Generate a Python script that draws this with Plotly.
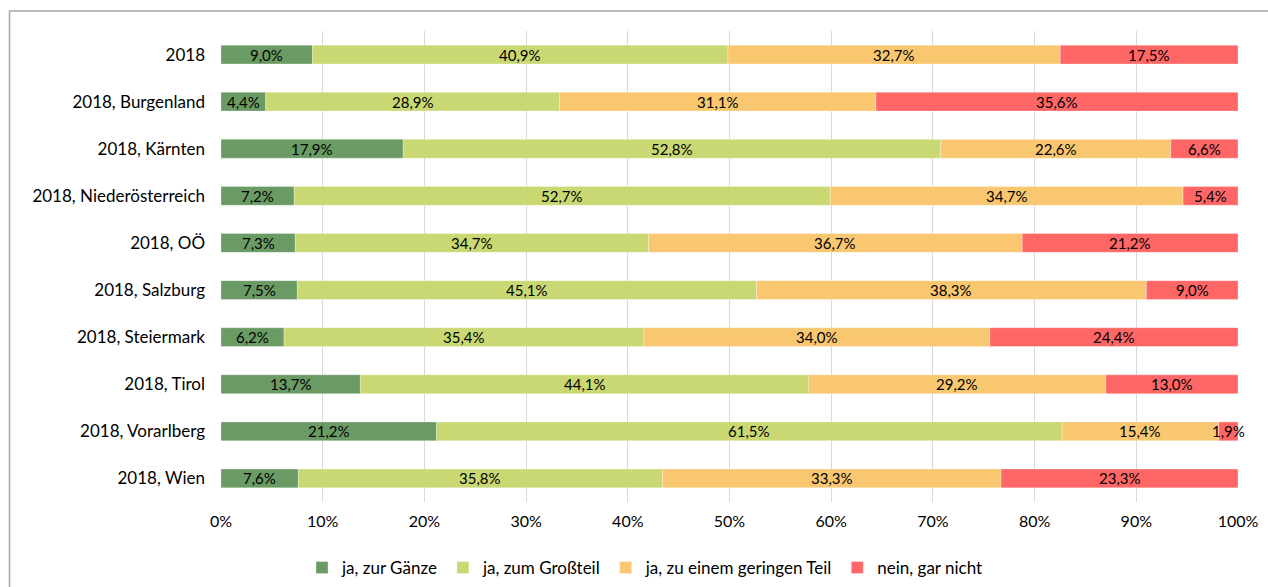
import plotly.graph_objects as go

categories = ["2018", "2018, Burgenland", "2018, Kärnten", "2018, Niederösterreich",
              "2018, OÖ", "2018, Salzburg", "2018, Steiermark", "2018, Tirol",
              "2018, Vorarlberg", "2018, Wien"]

zur_gaenze = [9.0, 4.4, 17.9, 7.2, 7.3, 7.5, 6.2, 13.7, 21.2, 7.6]
zum_grossteil = [40.9, 28.9, 52.8, 52.7, 34.7, 45.1, 35.4, 44.1, 61.5, 35.8]
geringer_teil = [32.7, 31.1, 22.6, 34.7, 36.7, 38.3, 34.0, 29.2, 15.4, 33.3]
gar_nicht = [17.5, 35.6, 6.6, 5.4, 21.2, 9.0, 24.4, 13.0, 1.9, 23.3]

series = [
    ("ja, zur Gänze", zur_gaenze, "#6B9B64"),
    ("ja, zum Großteil", zum_grossteil, "#C9D873"),
    ("ja, zu einem geringen Teil", geringer_teil, "#F8C770"),
    ("nein, gar nicht", gar_nicht, "#FF6666"),
]

FONT = "Lato, Open Sans, sans-serif"

fig = go.Figure()
annotations = []
# Each row is shown as a 100 % stacked bar
row_totals = [sum(v) for v in zip(zur_gaenze, zum_grossteil, geringer_teil, gar_nicht)]
starts = [0.0] * len(categories)
for name, vals, color in series:
    shares = [v / t * 100 for v, t in zip(vals, row_totals)]
    fig.add_trace(go.Bar(
        y=categories, x=shares, base=starts[:], name=name, orientation="h",
        marker=dict(color=color, line=dict(color="rgba(255,255,255,0.6)", width=0.5)),
        hoverinfo="skip",
    ))
    # value labels, centred on each segment (y given as category index)
    for idx, (v, s, sh) in enumerate(zip(vals, starts, shares)):
        annotations.append(dict(
            x=s + sh / 2, y=idx, xref="x", yref="y", showarrow=False,
            text=f"{v:.1f}".replace(".", ",") + "%",
            font=dict(family=FONT, size=15, color="#000000"),
        ))
    starts = [s + sh for s, sh in zip(starts, shares)]

W, H = 1268, 587
ml, mr, mt, mb = 221, 30, 31, 85
pw, ph = W - ml - mr, H - mt - mb

fig.update_layout(
    width=W, height=H, barmode="overlay", bargap=0.6,
    margin=dict(l=ml, r=mr, t=mt, b=mb, autoexpand=False),
    paper_bgcolor="white", plot_bgcolor="white",
    font=dict(family=FONT, size=16, color="#000000"),
    xaxis=dict(range=[0, 100], dtick=10, ticksuffix="%", showgrid=True,
               gridcolor="#D9D9D9", gridwidth=1, zeroline=False, showline=False,
               tickfont=dict(size=16), ticks="", ticklabelstandoff=8),
    yaxis=dict(type="category", categoryorder="array", categoryarray=categories,
               range=[len(categories) - 0.5, -0.5], showgrid=False, showline=False,
               ticks="", ticklabelstandoff=15, tickfont=dict(size=17)),
    legend=dict(orientation="h", x=(645 / W), xref="container", xanchor="center",
                y=(587 - 568) / 587, yref="container", yanchor="middle",
                font=dict(size=17), traceorder="normal", itemwidth=30),
    annotations=annotations,
    shapes=[dict(type="rect", xref="paper", yref="paper",
                 x0=(9.5 - ml) / pw, x1=(1290 - ml) / pw,
                 y0=(H - mb - 600) / ph, y1=(H - mb - 11) / ph,
                 line=dict(color="#A6A6A6", width=1.5), fillcolor="rgba(0,0,0,0)",
                 layer="below")],
)

fig.write_html("out.html")
